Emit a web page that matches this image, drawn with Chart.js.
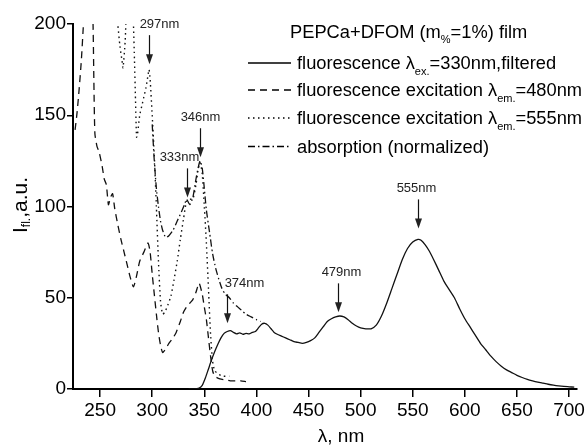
<!DOCTYPE html>
<html>
<head>
<meta charset="utf-8">
<script src="https://cdn.jsdelivr.net/npm/chart.js@4.4.0/dist/chart.umd.min.js"></script>
<style>
  html, body { margin: 0; padding: 0; background: #fff; }
  #wrap { width: 587px; height: 448px; }
</style>
</head>
<body>
<div id="wrap"><canvas id="chart" width="587" height="448"></canvas></div>
<script>
// values (wavelength nm / intensity a.u.)
var fluorX = [335, 340, 345, 348, 351, 354, 357, 360, 363, 366, 369, 372, 375, 378, 381, 384, 387, 390, 393, 396, 399, 402, 405, 408, 411, 414, 417, 420, 424, 428, 432, 436, 440, 444, 448, 452, 456, 460, 464, 468, 472, 476, 480, 484, 488, 492, 496, 500, 505, 510, 515, 520, 525, 530, 535, 540, 545, 550, 555, 558, 562, 566, 570, 575, 580, 585, 590, 595, 600, 605, 610, 615, 620, 625, 630, 635, 640, 645, 650, 655, 660, 665, 670, 675, 680, 685, 690, 695, 700, 705];
var fluorY = [0, 0, 0.5, 2, 6, 11, 16, 20.5, 24.5, 28, 30.5, 31.5, 32, 31, 30.2, 30.8, 30, 30.5, 30.2, 31, 31.5, 33.5, 35.5, 36, 35, 33, 31, 30, 29, 28, 27, 26, 25.5, 25, 25.5, 26.5, 28, 31, 34, 37, 38.5, 39.5, 40, 39.5, 38, 36, 34.5, 33.5, 33, 33, 35, 40, 47, 55, 63, 71, 77, 80.5, 82, 81.5, 79, 75.5, 71, 65, 59, 54.5, 50, 44, 38.5, 34, 29.5, 25, 21.5, 18, 15, 12.5, 10.5, 9, 7.5, 6.3, 5.3, 4.5, 3.8, 3.2, 2.6, 2.1, 1.7, 1.4, 1.2, 1];

var exc480X = [226, 228, 230, 232, 234, 236, 240, 243, 244, 245, 247, 249, 252, 254, 256, 258, 260, 262, 264, 267, 270, 273, 276, 279, 282, 285, 288, 292, 296, 298, 300, 302, 304, 306, 308, 310, 313, 316, 320, 323, 327, 330, 333, 336, 339, 342, 345, 348, 350, 352, 354, 356, 358, 360, 365, 370, 375, 380, 385, 390];
var exc480Y = [142, 152, 165, 180, 200, 225, 230, 205, 170, 140, 133, 130, 122, 115, 112, 101, 105, 107, 99, 90, 82, 75, 68, 61, 56, 62, 70, 75, 80, 75, 63, 52, 41, 31, 24, 20, 22, 25, 28, 31, 37, 42, 45, 47, 49, 53, 58, 52, 45, 38, 28, 18, 10, 7, 5.5, 5, 4.5, 4.5, 4.5, 4];

var exc555X = [265, 267, 269, 271, 272, 274, 276, 280, 282, 283, 284, 285, 286, 288, 290, 292, 294, 296, 297, 298, 300, 302, 304, 306, 308, 310, 312, 315, 318, 321, 324, 327, 330, 333, 336, 339, 342, 344, 346, 348, 350, 352, 354, 356, 358, 360, 364, 368, 374];
var exc555Y = [215, 200, 188, 180, 176, 190, 215, 225, 200, 180, 158, 138, 140, 150, 155, 160, 165, 172, 175, 170, 150, 128, 100, 70, 48, 41, 42, 46, 51, 60, 70, 82, 93, 103, 104, 104, 112, 120, 124, 118, 100, 80, 55, 30, 15, 10, 8, 7, 7];

var absX = [300, 302, 304, 306, 308, 310, 313, 316, 320, 324, 328, 331, 333, 336, 339, 342, 344, 346, 348, 350, 352, 355, 358, 361, 364, 367, 370, 374, 378, 382, 386, 390, 395, 400, 404];
var absY = [145, 125, 110, 100, 92, 87, 83, 84, 87, 92, 97, 101, 104, 101, 105, 115, 121, 125, 121, 110, 98, 86, 74, 66, 60, 55, 52, 50, 47, 45, 43, 41, 39.5, 38, 37];

var xTicks = [250, 300, 350, 400, 450, 500, 550, 600, 650, 700];
var yTicks = [0, 50, 100, 150, 200];

var seriesLabels = [
  'fluorescence λ_{ex.}=330nm,filtered',
  'fluorescence excitation λ_{em.}=480nm',
  'fluorescence excitation λ_{em.}=555nm',
  'absorption (normalized)'
];
var legendTitle = 'PEPCa+DFOM (m_{%}=1%) film';
var xTitle = 'λ, nm';
var yTitle = 'I_{fl.},a.u.';

var peakLabels = ['297nm', '333nm', '346nm', '374nm', '479nm', '555nm'];
var peakX = [297, 333, 346, 372, 478, 555];
var peakTip = [178, 105, 127, 36, 42, 88];

// label shift against arrow, px
var labelDx = [10, -8, 0, 17, 3, -2];

var FONT = '"Liberation Sans", Arial, sans-serif';

function pts(xs, ys) {
  return xs.map(function (x, i) { return { x: x, y: ys[i] }; });
}

function splitRich(str) {
  var out = [], re = /_\{([^}]*)\}/g, last = 0, m;
  while ((m = re.exec(str))) {
    if (m.index > last) out.push({ t: str.slice(last, m.index) });
    out.push({ t: m[1], sub: true });
    last = re.lastIndex;
  }
  if (last < str.length) out.push({ t: str.slice(last) });
  return out;
}

function drawRich(ctx, str, x, y, size, align, subDrop) {
  var p = splitRich(str), subSize = Math.round(size * 0.58), w = 0;
  p.forEach(function (s) {
    ctx.font = (s.sub ? subSize : size) + 'px ' + FONT;
    s.w = ctx.measureText(s.t).width;
    w += s.w;
  });
  if (align === 'center') x -= w / 2;
  ctx.textAlign = 'left';
  ctx.textBaseline = 'alphabetic';
  p.forEach(function (s) {
    ctx.font = (s.sub ? subSize : size) + 'px ' + FONT;
    ctx.fillText(s.t, x, y + (s.sub ? subDrop : 0));
    x += s.w;
  });
}

var extras = {
  id: 'extras',
  afterDraw: function (chart) {
    var ctx = chart.ctx, xs = chart.scales.x, ys = chart.scales.y;
    ctx.save();
    ctx.fillStyle = '#000';
    ctx.strokeStyle = '#000';

    // axis titles
    drawRich(ctx, xTitle, 341, 442, 19, 'center', 0);
    ctx.save();
    ctx.translate(27, 205);
    ctx.rotate(-Math.PI / 2);
    drawRich(ctx, yTitle, 0, 0, 21, 'center', 3);
    ctx.restore();

    // legend
    drawRich(ctx, legendTitle, 290, 38, 18.3, 'left', 5);
    var rows = [63, 90, 118, 146.5];
    chart.data.datasets.forEach(function (ds, i) {
      ctx.save();
      ctx.lineWidth = ds.borderWidth;
      ctx.setLineDash(ds.borderDash || []);
      ctx.beginPath();
      ctx.moveTo(248, rows[i]);
      ctx.lineTo(291, rows[i]);
      ctx.stroke();
      ctx.restore();
      drawRich(ctx, seriesLabels[i], 297, rows[i] + 6, 18.3, 'left', 6);
    });

    // peak arrows
    ctx.fillStyle = '#222';
    ctx.strokeStyle = '#111';
    ctx.lineWidth = 1.2;
    peakX.forEach(function (nm, i) {
      var px = Math.round(xs.getPixelForValue(nm)) + 0.5;
      var tip = ys.getPixelForValue(peakTip[i]);
      var top = tip - 29;
      ctx.beginPath();
      ctx.moveTo(px, top);
      ctx.lineTo(px, tip - 6);
      ctx.stroke();
      ctx.beginPath();
      ctx.moveTo(px, tip);
      ctx.lineTo(px - 3.5, tip - 10);
      ctx.lineTo(px + 3.5, tip - 10);
      ctx.closePath();
      ctx.fill();
      ctx.font = '13px ' + FONT;
      ctx.textAlign = 'center';
      ctx.textBaseline = 'alphabetic';
      ctx.fillText(peakLabels[i], px + labelDx[i], top - 7);
    });
    ctx.restore();
  }
};

var ctx = document.getElementById('chart').getContext('2d');
var chart = new Chart(ctx, {
  type: 'line',
  data: {
    datasets: [
      { data: pts(fluorX, fluorY), borderColor: '#111', borderWidth: 1.3 },
      { data: pts(exc480X, exc480Y), borderColor: '#111', borderWidth: 1.3, borderDash: [7, 5] },
      { data: pts(exc555X, exc555Y), borderColor: '#111', borderWidth: 1.4, borderDash: [1.5, 3.5] },
      { data: pts(absX, absY), borderColor: '#111', borderWidth: 1.3, borderDash: [7, 3, 1.5, 3] }
    ]
  },
  options: {
    responsive: false,
    animation: false,
    layout: { padding: { left: 0, top: 24, right: 7, bottom: 0 } },
    elements: { point: { radius: 0 }, line: { tension: 0.2, fill: false } },
    plugins: { legend: { display: false }, tooltip: { enabled: false } },
    scales: {
      x: {
        type: 'linear',
        min: 224,
        max: 707,
        afterBuildTicks: function (s) { s.ticks = xTicks.map(function (v) { return { value: v }; }); },
        afterFit: function (s) { s.height = 59; },
        grid: { drawOnChartArea: false, drawTicks: true, tickLength: 8, color: '#000', lineWidth: 1.5 },
        border: { color: '#000', width: 2 },
        ticks: { color: '#000', padding: 2, maxRotation: 0, font: { family: FONT, size: 19 } }
      },
      y: {
        min: 0,
        max: 200,
        afterBuildTicks: function (s) { s.ticks = yTicks.map(function (v) { return { value: v }; }); },
        afterFit: function (s) { s.width = 73; },
        grid: { drawOnChartArea: false, drawTicks: true, tickLength: 6, color: '#000', lineWidth: 1.5 },
        border: { color: '#000', width: 2 },
        ticks: { color: '#000', padding: 1, font: { family: FONT, size: 19 } }
      }
    }
  },
  plugins: [extras]
});
</script>
</body>
</html>
